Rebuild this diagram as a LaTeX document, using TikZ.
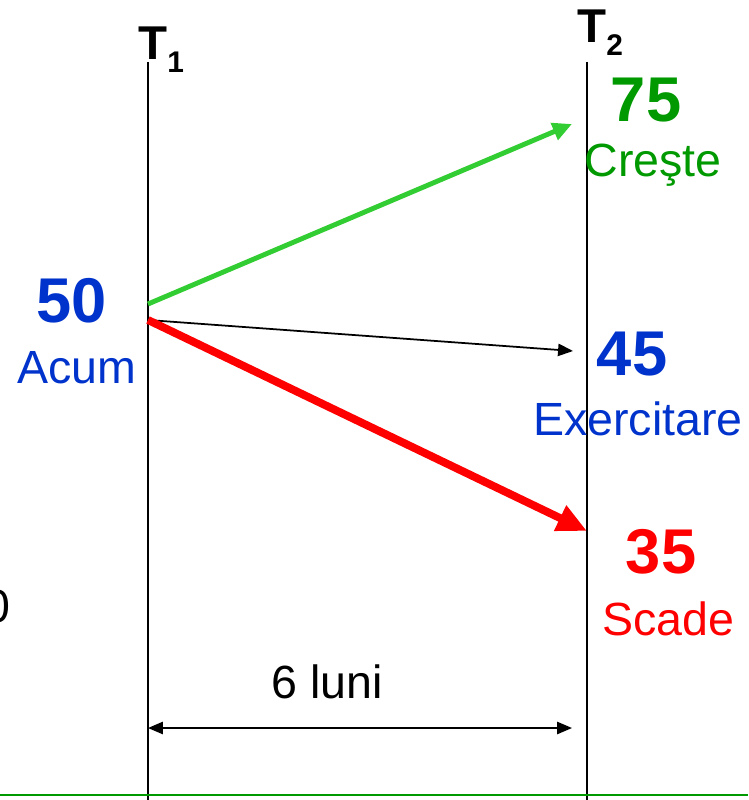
\documentclass[tikz,border=0pt]{standalone}
\usepackage{fontspec}
\setmainfont{Liberation Sans}
\usetikzlibrary{arrows.meta}

\definecolor{valblue}{RGB}{0,51,204}
\definecolor{valgreen}{RGB}{0,153,0}
\definecolor{arrowgreen}{RGB}{50,205,50}
\definecolor{valred}{RGB}{255,0,0}

\begin{document}
\begin{tikzpicture}[
    x=0.02cm, y=-0.02cm,
    >={Triangle[length=8.5pt,width=7pt]},
    every node/.style={inner sep=0pt},
    value/.style={font=\fontsize{36}{36}\selectfont\bfseries, anchor=base},
    caption/.style={font=\fontsize{26.5}{26.5}\selectfont, anchor=base},
    timelbl/.style={font=\fontsize{27}{27}\selectfont\bfseries, anchor=base west}
]
\useasboundingbox (0,0) rectangle (748,800);

% ============================================================
% Zeitachsen T1 und T2
% ============================================================
\coordinate (T1top) at (148,62);
\coordinate (T1bot) at (148,800);
\coordinate (T2top) at (587,62);
\coordinate (T2bot) at (587,800);

\draw[line width=1.1pt] (T1top) -- (T1bot);
\draw[line width=1.1pt] (T2top) -- (T2bot);

\node[timelbl] (t1) at (138,60)
    {T\raisebox{-7pt}{\fontsize{17}{17}\selectfont 1}};
\node[timelbl] (t2) at (577,43)
    {T\raisebox{-7pt}{\fontsize{17}{17}\selectfont 2}};

% ============================================================
% Startwert
% ============================================================
\node[value, valblue] (v50) at (72,322) {50};
\node[caption, valblue] (acum) at (77,383) {Acum};

\node[caption, anchor=base east] (cut) at (11,622) {0};

% ============================================================
% Endwerte bei T2
% ============================================================
\node[value, valgreen] (v75) at (646,122) {75};
\node[caption, valgreen] (creste) at (653,177) {Creşte};

\node[value, valblue] (v45) at (632,375) {45};
\node[caption, valblue] (exerc) at (638,435) {Exercitare};

\node[value, valred] (v35) at (661,573) {35};
\node[caption, valred] (scade) at (668,635) {Scade};

% ============================================================
% Pfeile (Kursentwicklung)
% ============================================================
\coordinate (StartUp) at (148,304);
\coordinate (Start) at (148,320);
\coordinate (UpEnd) at (572,124);
\coordinate (MidEnd) at (573,351);
\coordinate (DownEnd) at (587,531);

\draw[arrowgreen, line width=2.8pt, -{Triangle[length=11pt,width=10pt]}]
    (StartUp) -- (UpEnd);
\draw[line width=1pt, ->] (Start) -- (MidEnd);
\draw[valred, line width=4.5pt, -{Triangle[length=17pt,width=15pt]}]
    (Start) -- (DownEnd);

% ============================================================
% Laufzeit
% ============================================================
\coordinate (DurL) at (148,728);
\coordinate (DurR) at (572,728);
\draw[line width=1pt, <->] (DurL) -- (DurR);
\node[caption] (luni) at (327,698) {6 luni};

% Linie unten
\draw[valgreen, line width=1.1pt] (0,795) -- (748,795);

\end{tikzpicture}
\end{document}
